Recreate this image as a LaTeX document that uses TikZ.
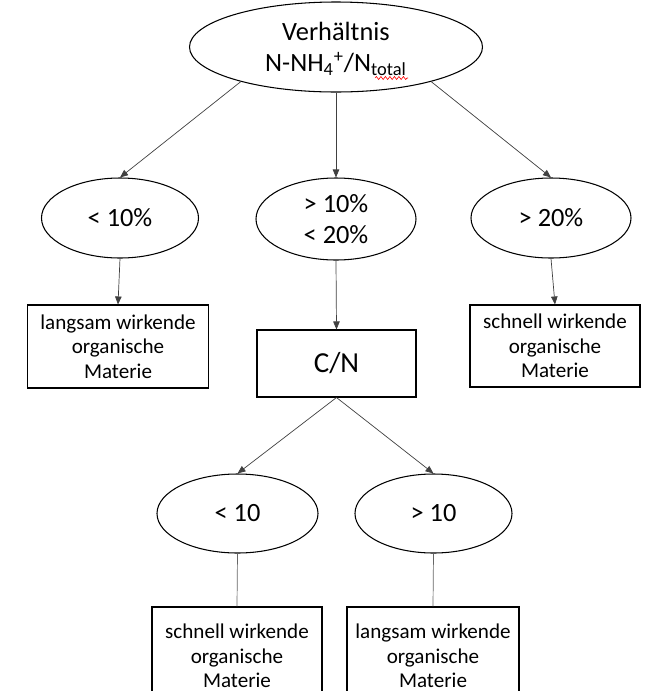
\documentclass[tikz,border=0pt]{standalone}
\usepackage{fontspec}
\setmainfont{Carlito}
\usetikzlibrary{shapes.geometric,arrows.meta,decorations.pathmorphing}
\tikzset{
  oval/.style={
    shape = ellipse,
    draw,
    line width = 0.6pt,
    inner sep = 0pt,
    align = center,
    font = \fontsize{15}{17.5}\selectfont
  },
  kasten/.style={
    shape = rectangle,
    draw,
    line width = 0.6pt,
    inner sep = 0pt,
    align = center,
    font = \fontsize{12}{14}\selectfont
  },
  pfeil/.style={
    draw = black!75,
    line width = 0.4pt,
    -{Triangle[length=1.6mm,width=1.3mm]}
  },
  linie/.style={
    draw = black!60,
    line width = 0.4pt
  },
  wellig/.style={
    draw = red,
    line width = 0.35pt,
    decorate,
    decoration = {snake, segment length=0.9mm, amplitude=0.3mm}
  }
}

\begin{document}
\begin{tikzpicture}
        \useasboundingbox (0,0) rectangle (13.38,-13.82);
        \clip (0,0) rectangle (13.38,-13.82);
        % Verhaeltnis
        \node[oval, minimum width=5.86cm, minimum height=1.8cm, text depth=0pt] (verh) at (6.72,-0.94) {Verhältnis\\N-NH\textsubscript{4}\textsuperscript{+}/N\textsubscript{total}};
        \draw[wellig] ([shift={(0.78,-0.62)}]verh.center) -- ++(0.66,0);
        % Ebene 2
        \node[oval, minimum width=3.14cm, minimum height=1.6cm] (kl10) at (2.40,-4.36) {< 10\%};
        \node[oval, minimum width=3.2cm, minimum height=1.64cm] (mitte) at (6.72,-4.38) {> 10\%\\< 20\%};
        \node[oval, minimum width=3.2cm, minimum height=1.6cm] (gr20) at (11.02,-4.36) {> 20\%};
        \node[kasten, minimum width=3.62cm, minimum height=1.66cm] (langsamA) at (2.36,-6.93) {langsam wirkende\\organische\\Materie};
        \node[kasten, minimum width=3.4cm, minimum height=1.64cm] (schnellA) at (11.10,-6.92) {schnell wirkende\\organische\\Materie};
        \node[kasten, minimum width=3.18cm, minimum height=1.34cm, font=\fontsize{16.5}{18}\selectfont] (cn) at (6.73,-7.27) {C/N};
        % Ebene 3
        \node[oval, minimum width=3.22cm, minimum height=1.58cm] (kl10b) at (4.75,-10.27) {< 10};
        \node[oval, minimum width=3.14cm, minimum height=1.58cm] (gr10b) at (8.67,-10.27) {> 10};
        \node[kasten, minimum width=3.4cm, minimum height=1.96cm] (schnellB) at (4.74,-13.12) {schnell wirkende\\organische\\Materie};
        \node[kasten, minimum width=3.44cm, minimum height=1.96cm] (langsamB) at (8.66,-13.12) {langsam wirkende\\organische\\Materie};
        % Pfeile
        \draw[pfeil] (verh.200) -- (kl10.north);
        \draw[pfeil] (verh.south) -- (mitte.north);
        \draw[pfeil] (verh.340) -- (gr20.north);
        \draw[pfeil] (kl10.south) -- (langsamA.north);
        \draw[pfeil] (gr20.south) -- (schnellA.north);
        \draw[pfeil] (mitte.south) -- (cn.north);
        \draw[pfeil] (cn.south) -- (kl10b.north);
        \draw[pfeil] (cn.south) -- (gr10b.north);
        \draw[linie] (kl10b.south) -- (schnellB.north);
        \draw[linie] (gr10b.south) -- (langsamB.north);
    \end{tikzpicture}
\end{document}
